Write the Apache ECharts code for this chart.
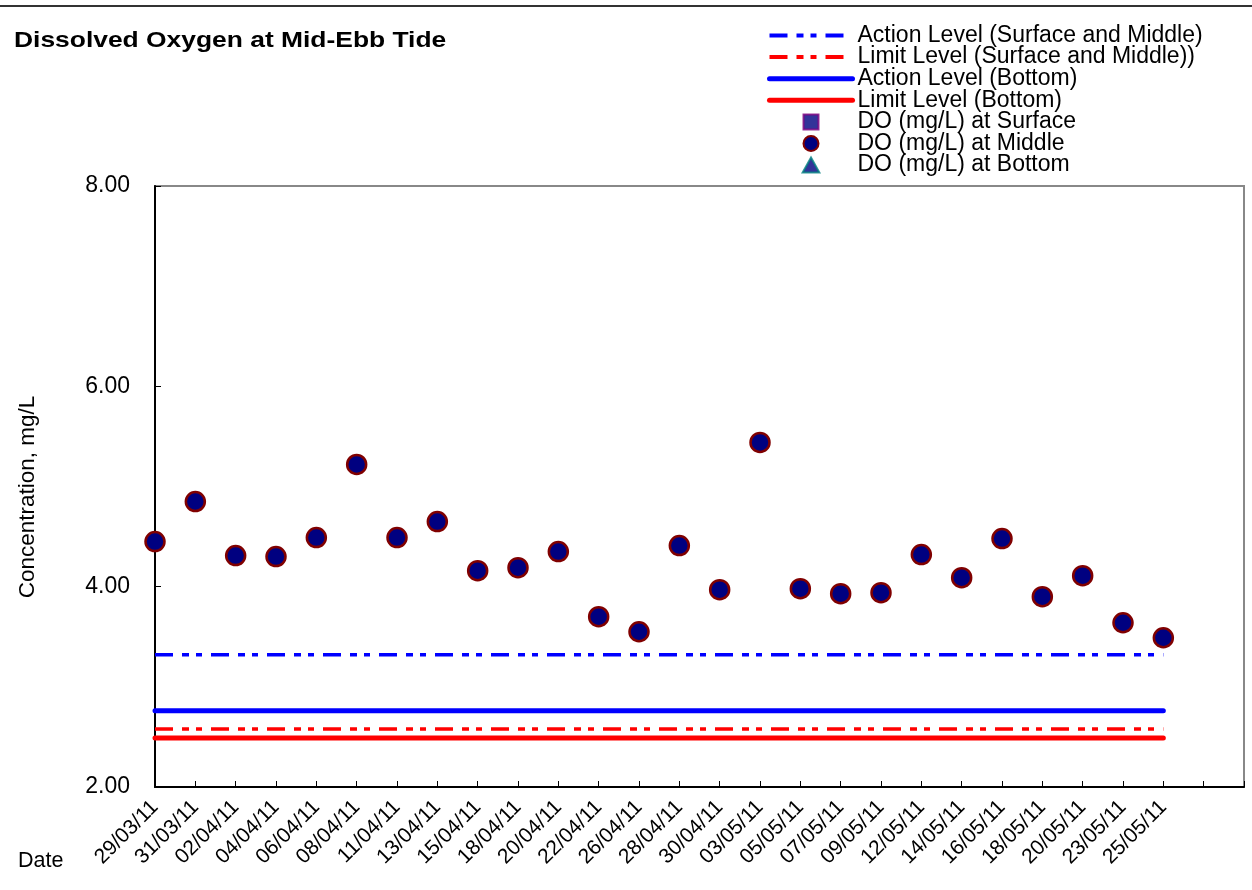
<!DOCTYPE html>
<html>
<head>
<meta charset="utf-8">
<script src="https://cdn.jsdelivr.net/npm/echarts@6/dist/echarts.min.js"></script>
<style>html,body{margin:0;padding:0;background:#fff}#c{width:1252px;height:890px}</style>
</head>
<body>
<div id="c"></div>
<script>
const dates = ['29/03/11','31/03/11','02/04/11','04/04/11','06/04/11','08/04/11','11/04/11','13/04/11','15/04/11','18/04/11','20/04/11','22/04/11','26/04/11','28/04/11','30/04/11','03/05/11','05/05/11','07/05/11','09/05/11','12/05/11','14/05/11','16/05/11','18/05/11','20/05/11','23/05/11','25/05/11'];
const extraSlots = ['', ''];
const doMiddle = [4.45,4.85,4.31,4.30,4.49,5.22,4.49,4.65,4.16,4.19,4.35,3.70,3.55,4.41,3.97,5.44,3.98,3.93,3.94,4.32,4.09,4.48,3.90,4.11,3.64,3.49];
const doSurface = [];
const doBottom = [];
const actionSM = 3.32;
const limitSM = 2.58;
const actionBottom = 2.76;
const limitBottom = 2.49;
const yTicks = [2, 4, 6, 8];

const FONT = 'Liberation Sans, Arial, sans-serif';
const categories = dates.concat(extraSlots);
const level = v => dates.map(() => v);
const dashPat = [18, 9, 7, 7, 6, 9];

const N_ASM = 'Action Level (Surface and Middle)';
const N_LSM = 'Limit Level (Surface and Middle))';
const N_AB = 'Action Level (Bottom)';
const N_LB = 'Limit Level (Bottom)';
const N_S = 'DO (mg/L) at Surface';
const N_M = 'DO (mg/L) at Middle';
const N_B = 'DO (mg/L) at Bottom';

const chart = echarts.init(document.getElementById('c'), null, {renderer: 'canvas'});
chart.setOption({
  animation: false,
  backgroundColor: '#fff',
  textStyle: {fontFamily: FONT},
  graphic: [
    {type: 'line', shape: {x1: 0, y1: 6, x2: 1252, y2: 6}, style: {stroke: '#333', lineWidth: 2}},
    {type: 'text', x: 14, y: 41, scaleX: 1.2, style: {text: 'Dissolved Oxygen at Mid-Ebb Tide', font: 'bold 22px ' + FONT, fill: '#000', verticalAlign: 'middle'}},
    {type: 'text', x: 18, y: 861, style: {text: 'Date', font: '21.5px ' + FONT, fill: '#000', verticalAlign: 'middle'}},
    {type: 'text', x: 28, y: 497, rotation: Math.PI / 2, style: {text: 'Concentration, mg/L', font: '22.5px ' + FONT, fill: '#000', align: 'center', verticalAlign: 'middle'}}
  ],
  legend: {
    orient: 'vertical',
    left: 762, top: 19,
    itemWidth: 83, itemHeight: 15, itemGap: -1.4,
    symbolKeepAspect: true,
    textStyle: {fontFamily: FONT, fontSize: 23, color: '#000', lineHeight: 22},
    data: [
      {name: N_ASM, itemStyle: {opacity: 0}, lineStyle: {width: 4}},
      {name: N_LSM, itemStyle: {opacity: 0}, lineStyle: {width: 4}},
      {name: N_AB, itemStyle: {opacity: 0}, lineStyle: {width: 5}},
      {name: N_LB, itemStyle: {opacity: 0}, lineStyle: {width: 5}},
      {name: N_S, icon: 'path://M0,0L10,0L10,10L0,10Z'},
      {name: N_M, icon: 'circle'},
      {name: N_B, icon: 'path://M5,0L10,9L0,9Z'}
    ]
  },
  grid: {left: 155, right: 8, top: 186, bottom: 103, show: true, borderColor: '#888', borderWidth: 2, containLabel: false},
  xAxis: {
    type: 'category',
    data: categories,
    boundaryGap: false,
    axisLine: {lineStyle: {color: '#000', width: 2}},
    axisTick: {inside: true, length: 6, interval: 0, lineStyle: {color: '#000', width: 1}},
    axisLabel: {interval: 0, rotate: 45, fontSize: 21, color: '#000', fontFamily: FONT, margin: 17},
    splitLine: {show: false}
  },
  yAxis: {
    type: 'value',
    min: yTicks[0], max: yTicks[yTicks.length - 1], interval: 2,
    axisLine: {show: true, lineStyle: {color: '#000', width: 2}},
    axisTick: {show: true, inside: true, length: 6, lineStyle: {color: '#000', width: 1}},
    axisLabel: {fontSize: 23, color: '#000', fontFamily: FONT, margin: 25, formatter: v => v.toFixed(2)},
    splitLine: {show: false}
  },
  series: [
    {name: N_ASM, type: 'line', data: level(actionSM), symbol: 'none', lineStyle: {color: '#0000ff', width: 3.5, type: dashPat}, itemStyle: {color: '#0000ff'}, z: 2},
    {name: N_LSM, type: 'line', data: level(limitSM), symbol: 'none', lineStyle: {color: '#ff0000', width: 3.5, type: dashPat}, itemStyle: {color: '#ff0000'}, z: 2},
    {name: N_AB, type: 'line', data: level(actionBottom), symbol: 'none', lineStyle: {color: '#0000ff', width: 5, cap: 'round'}, itemStyle: {color: '#0000ff'}, z: 2},
    {name: N_LB, type: 'line', data: level(limitBottom), symbol: 'none', lineStyle: {color: '#ff0000', width: 5, cap: 'round'}, itemStyle: {color: '#ff0000'}, z: 2},
    {name: N_S, type: 'scatter', data: doSurface, symbol: 'rect', symbolSize: 14, itemStyle: {color: '#000080', borderColor: '#800080', borderWidth: 2}, z: 3},
    {name: N_M, type: 'scatter', data: doMiddle, symbol: 'circle', symbolSize: 19, itemStyle: {color: '#000080', borderColor: '#800000', borderWidth: 2.5, opacity: 1}, z: 4},
    {name: N_B, type: 'scatter', data: doBottom, symbol: 'triangle', symbolSize: 14, itemStyle: {color: '#000080', borderColor: '#008080', borderWidth: 2}, z: 3}
  ]
});
</script>
</body>
</html>
